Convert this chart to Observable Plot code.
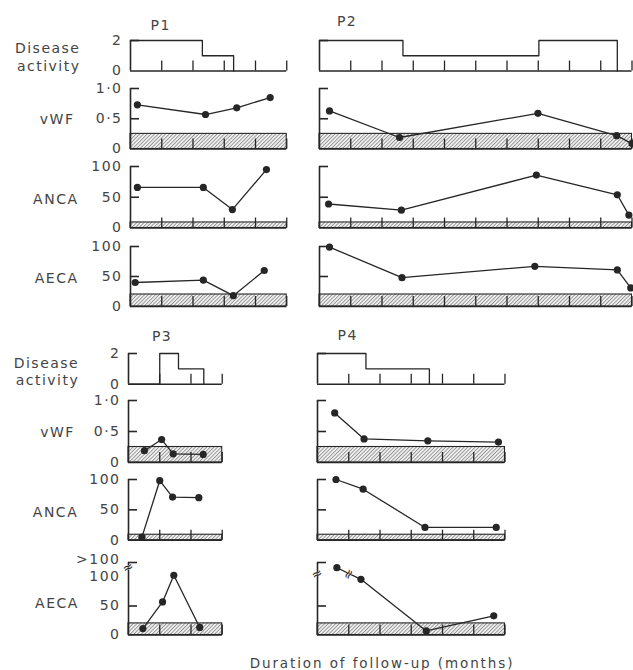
<!DOCTYPE html>
<html>
<head>
<meta charset="utf-8">
<script src="https://cdn.jsdelivr.net/npm/d3@7"></script>
<script src="https://cdn.jsdelivr.net/npm/@observablehq/plot@0.6"></script>
<style>
  body { margin: 0; background: #fff; }
  #fig { position: relative; width: 633px; height: 670px; overflow: hidden; background: #fff; }
  #caption { position: absolute; left: 382px; top: 663px; transform: translate(-50%, -50%);
    font-family: "DejaVu Sans", sans-serif; font-size: 13.5px; letter-spacing: 1.9px; color: #444; white-space: nowrap; }
</style>
</head>
<body>
<svg style="position:absolute;width:0;height:0" aria-hidden="true">
  <defs>
    <pattern id="hatch" width="2.6" height="2.6" patternUnits="userSpaceOnUse" patternTransform="rotate(45)">
      <rect width="2.6" height="2.6" fill="#f4f4f4"></rect>
      <line x1="0.5" y1="0" x2="0.5" y2="2.6" stroke="#8c8c8c" stroke-width="0.9"></line>
    </pattern>
  </defs>
</svg>
<div id="fig"><div id="caption">Duration of follow-up (months)</div></div>
<script>
// ---------------- DATA ----------------
const patients = ["P1", "P2", "P3", "P4"];
const followUpTicks = [5, 10, 3, 6];

// Disease activity (step changes: time, level)
const p1ActivityTime = [0, 2.3, 3.3];
const p1ActivityLevel = [2, 1, 0];
const p2ActivityTime = [0, 2.67, 7.02, 9.53];
const p2ActivityLevel = [2, 1, 2, 0];
const p3ActivityTime = [0, 1.0, 1.6, 2.41];
const p3ActivityLevel = [0, 2, 1, 0];
const p4ActivityTime = [0, 1.55, 3.58];
const p4ActivityLevel = [2, 1, 0];

// vWF
const p1VwfTime = [0.22, 2.4, 3.4, 4.47];
const p1Vwf = [0.73, 0.57, 0.68, 0.85];
const p2VwfTime = [0.32, 2.56, 6.99, 9.51, 10.0];
const p2Vwf = [0.63, 0.19, 0.59, 0.22, 0.09];
const p3VwfTime = [0.51, 1.06, 1.43, 2.39];
const p3Vwf = [0.19, 0.37, 0.14, 0.13];
const p4VwfTime = [0.55, 1.49, 3.53, 5.79];
const p4Vwf = [0.80, 0.38, 0.35, 0.33];

// ANCA
const p1AncaTime = [0.22, 2.33, 3.26, 4.35];
const p1Anca = [66, 66, 30, 95];
const p2AncaTime = [0.29, 2.62, 6.94, 9.53, 9.9];
const p2Anca = [39, 29, 86, 54, 21];
const p3AncaTime = [0.43, 1.0, 1.41, 2.25];
const p3Anca = [5, 98, 71, 70];
const p4AncaTime = [0.59, 1.46, 3.44, 5.72];
const p4Anca = [100, 84, 21, 21];

// AECA
const p1AecaTime = [0.15, 2.33, 3.29, 4.28];
const p1Aeca = [40, 44, 18, 60];
const p2AecaTime = [0.32, 2.64, 6.89, 9.53, 9.96];
const p2Aeca = [99, 48, 67, 61, 31];
const p3AecaTime = [0.46, 1.09, 1.45, 2.28];
const p3Aeca = [11, 57, 103, 13];
const p4AecaTime = [0.62, 1.39, 3.48, 5.64];
const p4Aeca = [116, 96, 7, 33];

// Normal ranges (hatched bands)
const normalVwf = 0.25;
const normalAnca = 9;
const normalAeca = 20;

// Axis ticks & labels
const activityTickValues = [0, 2];
const activityTickLabels = ["0", "2"];
const vwfTickValues = [0, 0.5, 1];
const vwfTickLabels = ["0", "0·5", "1·0"];
const titerTickValues = [0, 50, 100];
const titerTickLabels = ["0", "50", "100"];
const aecaOverValue = 125;
const aecaOverLabel = ">100";
const rowLabels = ["Disease\nactivity", "vWF", "ANCA", "AECA"];

// ---------------- DRAWING ----------------
const ink = "#262626";
const textInk = "#444";
const unit = 31.25;
const FONT = 14;
const fig = document.getElementById("fig");

const zip = (t, v) => t.map((d, i) => ({t: d, v: v[i]}));

function panel(cfg) {
  const {x0, yTop, yBase, span, domainTop, left} = cfg;
  const mL = left ? 128 : 8, mR = 8, mT = cfg.mT || 8, mB = 6;
  const innerW = span * unit, innerH = yBase - yTop;
  const width = mL + innerW + mR, height = mT + innerH + mB;
  const marks = [];
  if (cfg.band != null) {
    marks.push(Plot.rect([cfg.band], {x1: () => 0, x2: () => span, y1: () => 0, y2: d => d,
      fill: "url(#hatch)", stroke: ink, strokeWidth: 1.1}));
  }
  marks.push(Plot.tickX(d3.range(1, span + 1), {x: d => d, insetTop: innerH - 10, stroke: ink, strokeWidth: 1.3}));
  marks.push(Plot.ruleY([0], {y: d => d, stroke: ink, strokeWidth: 1.6}));
  marks.push(Plot.ruleX([0], {x: d => d, stroke: ink, strokeWidth: 1.6}));
  marks.push(Plot.tickY(cfg.axisTicks, {y: d => d, insetRight: innerW - 9, stroke: ink, strokeWidth: 1.6}));
  if (cfg.step) {
    marks.push(Plot.line(cfg.step, {x: "t", y: "v", curve: "step-after", stroke: ink, strokeWidth: 1.3}));
  }
  if (cfg.series) {
    marks.push(Plot.line(cfg.series, {x: "t", y: "v", stroke: ink, strokeWidth: 1.3}));
    marks.push(Plot.dot(cfg.series, {x: "t", y: "v", r: 3.6, fill: ink}));
  }
  if (cfg.breaks) {
    for (const b of cfg.breaks) {
      marks.push(Plot.text([b], {x: d => d.x, y: d => d.y, text: () => "≈", rotate: b.rotate,
        fontSize: 13, fill: ink, stroke: "white", strokeWidth: 0.5}));
    }
  }
  if (left) {
    marks.push(Plot.text(cfg.tickValues, {x: () => 0, y: d => d, text: (d, i) => cfg.tickLabels[i],
      dx: -8, textAnchor: "end", fontSize: FONT, fill: textInk}));
    if (cfg.overLabel) {
      marks.push(Plot.text([cfg.overLabel.value], {x: () => 0, y: d => d, text: () => cfg.overLabel.text,
        dx: -8, dy: -3, textAnchor: "end", fontSize: FONT, fill: textInk}));
    }
    marks.push(Plot.text([cfg.rowLabel.text], {x: () => 0, y: () => cfg.rowLabel.y, text: d => d,
      dx: cfg.rowLabel.right - x0 + 2, textAnchor: "end", fontSize: FONT, lineHeight: 1.25, fill: textInk}));
  }
  if (cfg.title) {
    marks.push(Plot.text([cfg.title.text], {x: () => 0, y: () => domainTop, text: d => d,
      dx: cfg.title.dx, dy: cfg.title.dy, textAnchor: "start", fontSize: FONT, fill: textInk}));
  }
  const svg = Plot.plot({
    width, height, marginLeft: mL, marginRight: mR, marginTop: mT, marginBottom: mB,
    x: {domain: [0, span], axis: null},
    y: {domain: [0, domainTop], axis: null},
    marks
  });
  svg.style.position = "absolute";
  svg.style.left = (x0 - mL) + "px";
  svg.style.top = (yTop - mT) + "px";
  svg.style.overflow = "visible";
  svg.style.maxWidth = "none";
  svg.style.fontFamily = '"DejaVu Sans", sans-serif';
  svg.style.letterSpacing = "1.5px";
  svg.style.background = "transparent";
  fig.appendChild(svg);
}

// layout
const colX0 = [130, 319.3, 128.3, 316.7];
const titleOffsets = [[20, -14.7], [17.4, -19], [23.4, -17.3], [20, -17.8]];
const blocks = [
  {activity: [40, 70.5], vwf: [88, 148.5], anca: [166, 227.5], aeca: [246, 306],
   labels: {activity: [0.95, 78], vwf: [0.5, 72], anca: [48.5, 76], aeca: [49, 76]}, aecaTop: 100},
  {activity: [353.3, 384], vwf: [400, 462], anca: [479.3, 540], aeca: [561.5, 634],
   labels: {activity: [0.86, 77], vwf: [0.5, 72.7], anca: [48, 76], aeca: [55.7, 76.7]}, aecaTop: aecaOverValue}
];

const activity = [zip(p1ActivityTime, p1ActivityLevel), zip(p2ActivityTime, p2ActivityLevel),
                  zip(p3ActivityTime, p3ActivityLevel), zip(p4ActivityTime, p4ActivityLevel)];
const vwf = [zip(p1VwfTime, p1Vwf), zip(p2VwfTime, p2Vwf), zip(p3VwfTime, p3Vwf), zip(p4VwfTime, p4Vwf)];
const anca = [zip(p1AncaTime, p1Anca), zip(p2AncaTime, p2Anca), zip(p3AncaTime, p3Anca), zip(p4AncaTime, p4Anca)];
const aeca = [zip(p1AecaTime, p1Aeca), zip(p2AecaTime, p2Aeca), zip(p3AecaTime, p3Aeca), zip(p4AecaTime, p4Aeca)];

patients.forEach((name, p) => {
  const B = blocks[p < 2 ? 0 : 1];
  const left = p % 2 === 0;
  const x0 = colX0[p];
  const span = followUpTicks[p];
  panel({x0, yTop: B.activity[0], yBase: B.activity[1], span, domainTop: 2, left, mT: 32,
    axisTicks: [2], step: activity[p], tickValues: activityTickValues, tickLabels: activityTickLabels,
    rowLabel: {text: rowLabels[0], y: B.labels.activity[0], right: B.labels.activity[1]},
    title: {text: name, dx: titleOffsets[p][0], dy: titleOffsets[p][1]}});
  panel({x0, yTop: B.vwf[0], yBase: B.vwf[1], span, domainTop: 1, left,
    axisTicks: [0.5, 1], band: normalVwf, series: vwf[p], tickValues: vwfTickValues, tickLabels: vwfTickLabels,
    rowLabel: {text: rowLabels[1], y: B.labels.vwf[0], right: B.labels.vwf[1]}});
  panel({x0, yTop: B.anca[0], yBase: B.anca[1], span, domainTop: 100, left,
    axisTicks: [50, 100], band: normalAnca, series: anca[p], tickValues: titerTickValues, tickLabels: titerTickLabels,
    rowLabel: {text: rowLabels[2], y: B.labels.anca[0], right: B.labels.anca[1]}});
  const lower = p >= 2;
  const breaks = [];
  if (lower) {
    breaks.push({x: 0, y: p === 2 ? 117 : 106, rotate: -25});
    const s = aeca[p];
    if (s[0].v > 100 && s[1].v <= 100) breaks.push({x: (s[0].t + s[1].t) / 2, y: (s[0].v + s[1].v) / 2, rotate: -60});
  }
  panel({x0, yTop: B.aeca[0], yBase: B.aeca[1], span, domainTop: B.aecaTop, left,
    axisTicks: lower ? [50, aecaOverValue] : [50, 100], band: normalAeca, series: aeca[p],
    tickValues: titerTickValues, tickLabels: titerTickLabels,
    overLabel: lower ? {value: aecaOverValue, text: aecaOverLabel} : null,
    breaks,
    rowLabel: {text: rowLabels[3], y: B.labels.aeca[0], right: B.labels.aeca[1]}});
});
</script>
</body>
</html>
